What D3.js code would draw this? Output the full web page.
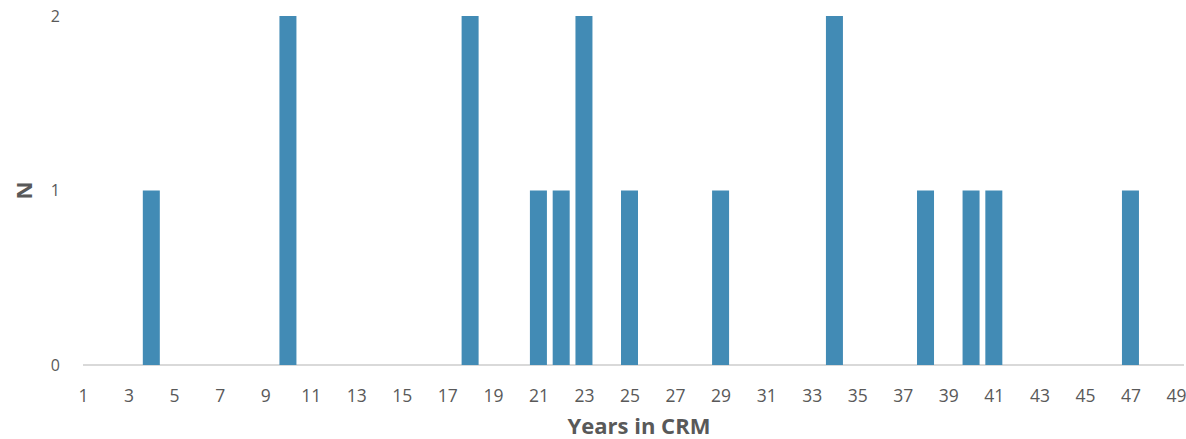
<!DOCTYPE html>
<html>
<head>
<meta charset="utf-8">
<script src="https://cdn.jsdelivr.net/npm/d3@7"></script>
<style>
  html, body { margin: 0; padding: 0; background: #fff; }
  svg { display: block; font-family: "Open Sans", "Noto Sans", sans-serif; }
</style>
</head>
<body>
<svg id="chart" width="1186" height="439"></svg>
<script>
// Years in CRM, 1..49, and number of respondents (N) per year
const years = d3.range(1, 50);
const counts = [0,0,0,1,0,0,0,0,0,2, 0,0,0,0,0,0,0,2,0,0, 1,1,2,0,1,0,0,0,1,0, 0,0,0,2,0,0,0,1,0,1, 1,0,0,0,0,0,1,0,0];
const yTicks = [0, 1, 2];
const xTickLabels = years.filter(y => y % 2 === 1);

const svg = d3.select("#chart");
const barColor = "#428bb5";
const textColor = "#595959";

const x = d3.scalePoint()
  .domain(years)
  .range([83, 1176]);

const y = d3.scaleLinear()
  .domain([0, 2])
  .range([365, 16]);

const barW = 17;

// axis baseline
svg.append("line")
  .attr("x1", x(1)).attr("x2", 1184)
  .attr("y1", y(0)).attr("y2", y(0))
  .attr("stroke", "#d9d9d9")
  .attr("stroke-width", 2);

// bars
svg.append("g")
  .selectAll("rect")
  .data(years.map((yr, i) => ({ yr, n: counts[i] })).filter(d => d.n > 0))
  .join("rect")
  .attr("x", d => x(d.yr) - barW / 2)
  .attr("y", d => y(d.n))
  .attr("width", barW)
  .attr("height", d => y(0) - y(d.n))
  .attr("fill", barColor);

// x axis labels
const xAxis = d3.axisBottom(x)
  .tickValues(xTickLabels)
  .tickSize(0)
  .tickPadding(0);
svg.append("g")
  .attr("transform", `translate(0, 390)`)
  .call(xAxis)
  .call(g => g.select(".domain").remove())
  .call(g => g.selectAll("text")
    .attr("fill", textColor)
    .attr("font-size", 17.5)
    .attr("font-family", "'Open Sans', sans-serif"));

// y axis labels
const yAxis = d3.axisLeft(y)
  .tickValues(yTicks)
  .tickFormat(d3.format("d"))
  .tickSize(0)
  .tickPadding(0);
svg.append("g")
  .attr("transform", `translate(60, 0)`)
  .call(yAxis)
  .call(g => g.select(".domain").remove())
  .call(g => g.selectAll("text")
    .attr("fill", textColor)
    .attr("font-size", 16)
    .attr("font-family", "'Open Sans', sans-serif"));

// axis titles
svg.append("text")
  .attr("x", 639)
  .attr("y", 434)
  .attr("text-anchor", "middle")
  .attr("fill", textColor)
  .attr("font-size", 22)
  .attr("font-weight", "bold")
  .text("Years in CRM");

svg.append("text")
  .attr("transform", `translate(32, ${y(1)}) rotate(-90)`)
  .attr("text-anchor", "middle")
  .attr("fill", textColor)
  .attr("font-size", 22)
  .attr("font-weight", "bold")
  .text("N");
</script>
</body>
</html>
